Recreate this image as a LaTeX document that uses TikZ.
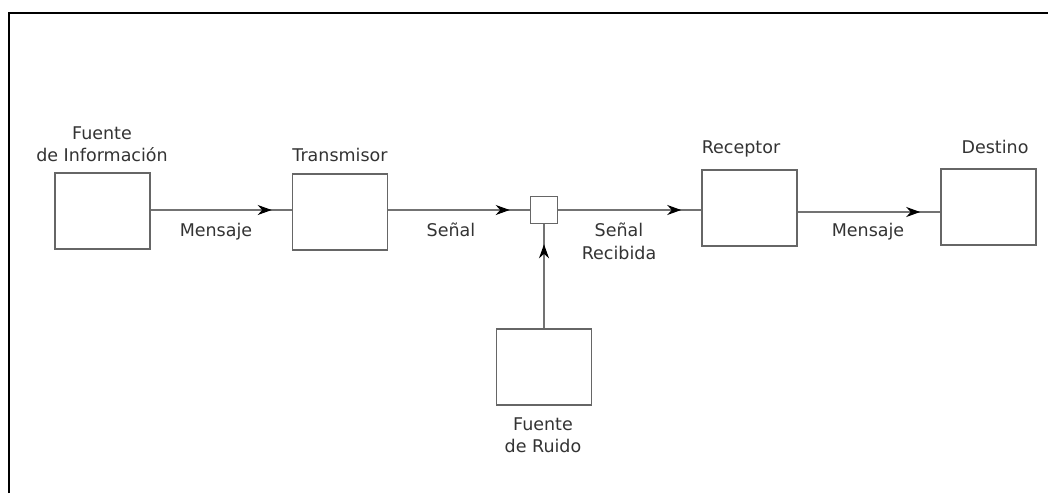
\documentclass[tikz,border=0pt]{standalone}
\usepackage{fontspec}
\setmainfont{DejaVu Sans}
\usetikzlibrary{arrows.meta,decorations.markings}
\begin{document}
\begin{tikzpicture}[x=1pt,y=-1pt,
  block/.style={draw=black!60,line width=1.6pt,fill=white,minimum width=95pt,minimum height=76pt,inner sep=0pt},
  junction/.style={draw=black!60,line width=1.6pt,fill=white,minimum width=27pt,minimum height=27pt,inner sep=0pt},
  lbl/.style={font=\fontsize{17.5}{22}\selectfont,text=black!80,align=center,inner sep=0pt},
  flow/.style={draw=black!55,line width=1.8pt,postaction={decorate},
    decoration={markings,mark=at position -20pt with {\arrow[black]{Stealth[length=14pt,width=10pt,inset=4.5pt]}}}}
]
\useasboundingbox (0,0) rectangle (1048,493);
% frame
\draw[line width=2.2pt,black] (9,493) -- (9,13) -- (1048,13);

% blocks
\node[block] (src) at (102.5,211) {};
\node[block] (tx)  at (340,212) {};
\node[junction] (mix) at (544,210) {};
\node[block] (rx)  at (749.5,208) {};
\node[block] (dst) at (988.5,207) {};
\node[block] (noise) at (544,367) {};

% block titles
\node[lbl,anchor=base] (srcT) at (102,139) {Fuente};
\node[lbl,anchor=base] (srcT2) at (102,161.5) {de Información};
\node[lbl,anchor=base] (txT) at (340,161.5) {Transmisor};
\node[lbl,anchor=base] (rxT) at (741,153) {Receptor};
\node[lbl,anchor=base] (dstT) at (995,153) {Destino};
\node[lbl,anchor=base] (nT) at (543,430) {Fuente};
\node[lbl,anchor=base] (nT2) at (543,452) {de Ruido};

% connectors
\draw[flow] (src.east |- 0,210) -- (tx.west |- 0,210);
\draw[flow] (tx.east |- mix) -- (mix.west);
\draw[flow] (mix.east) -- (rx.west |- mix);
\draw[flow] ([yshift=-4pt]rx.east) -- (dst.west |- 0,212);
\draw[flow] (noise.north -| mix) -- (mix.south);

% connector labels
\node[lbl,anchor=base] (m1) at (216,236.5) {Mensaje};
\node[lbl,anchor=base] (s1) at (451,236.5) {Señal};
\node[lbl,anchor=base] (s2) at (619,236.5) {Señal};
\node[lbl,anchor=base] (s3) at (619,259) {Recibida};
\node[lbl,anchor=base] (m2) at (868,236.5) {Mensaje};
\end{tikzpicture}
\end{document}
